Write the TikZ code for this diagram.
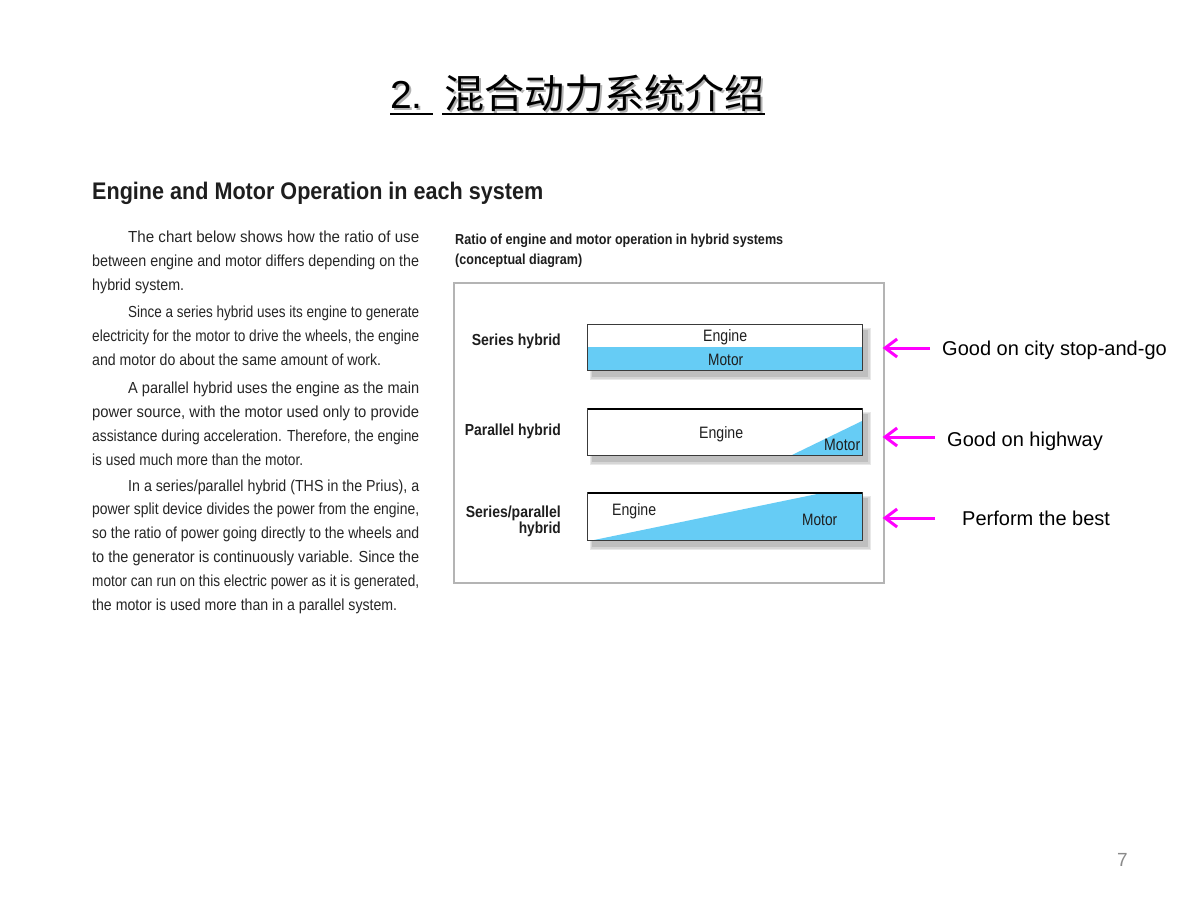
\documentclass[tikz,border=0pt]{standalone}
\usepackage{fontspec}
\usepackage{graphicx}
\usetikzlibrary{arrows.meta}
\setmainfont{Liberation Sans}
\newfontfamily\narrow[FakeStretch=0.78]{Liberation Sans}
\newfontfamily\cjk{Noto Sans CJK SC}
\definecolor{bodytxt}{HTML}{262626}
\definecolor{headtxt}{HTML}{1E1E1E}
\definecolor{barblue}{RGB}{102,204,245}
\definecolor{framegray}{HTML}{B4B4B4}
\definecolor{barline}{HTML}{3A3A3A}
\definecolor{mag}{HTML}{FF00FF}
\definecolor{pagegray}{HTML}{8A8A8A}
% fitted line: width, size, font switches, text
\newcommand{\fitln}[4]{\resizebox{#1pt}{\height}{#3\fontsize{#2}{#2}\selectfont #4}}
% soft drop shadow behind a named bar node
\newcommand{\barshadow}[1]{%
  \fill[gray!18] ([shift={(2,3)}]#1.north west) rectangle ([shift={(9,10)}]#1.south east);
  \fill[gray!32] ([shift={(3,4)}]#1.north west) rectangle ([shift={(8,9)}]#1.south east);
  \fill[gray!50] ([shift={(4,5)}]#1.north west) rectangle ([shift={(6,7)}]#1.south east);}
\tikzset{
  txt/.style={inner sep=0pt, anchor=base west, text=bodytxt},
  txtr/.style={inner sep=0pt, anchor=base east, text=headtxt},
  bartxt/.style={inner sep=0pt, anchor=base west, text=headtxt},
  barbox/.style={draw=none, inner sep=0pt, minimum width=274pt},
  barborder/.style={draw=barline, line width=1pt},
  magarrow/.style={draw=mag, line width=3pt, -{Straight Barb[length=12pt,width=18pt]}},
  rlabel/.style={inner sep=0pt, anchor=base west, text=black, font=\fontsize{20}{20}\selectfont},
}
\begin{document}
\begin{tikzpicture}[x=1pt,y=-1pt]
\useasboundingbox (0,0) rectangle (1200,900);
\fill[white] (0,0) rectangle (1200,900);

% ---- title ----
\node[inner sep=0pt, anchor=base west, text=gray!60] at (392,110) {\fontsize{39}{39}\selectfont 2.};
\node[inner sep=0pt, anchor=base west, text=gray!60] at (446,110) {\cjk\fontsize{40}{40}\selectfont 混合动力系统介绍};
\node[inner sep=0pt, anchor=base west] (tnum) at (390,108) {\fontsize{39}{39}\selectfont 2.};
\node[inner sep=0pt, anchor=base west] (tcjk) at (444,108) {\cjk\fontsize{40}{40}\selectfont 混合动力系统介绍};
\draw[line width=1.6pt] (390,114) -- (433,114);
\draw[line width=1.6pt] (442,114) -- (765,114);

% ---- heading ----
\node[inner sep=0pt, anchor=base west, text=headtxt] (head) at (92,199)
  {\fitln{451}{24}{\narrow\bfseries}{Engine and Motor Operation in each system}};

% ---- body text ----
\node[txt] (l1) at (128,242) {\fitln{291}{16}{\narrow}{The chart below shows how the ratio of use}};
\node[txt] (l2) at (92,266) {\fitln{327}{16}{\narrow}{between engine and motor differs depending on the}};
\node[txt] (l3) at (92,290) {\fitln{92}{16}{\narrow}{hybrid system.}};
\node[txt] (l4) at (128,317) {\fitln{291}{16}{\narrow}{Since a series hybrid uses its engine to generate}};
\node[txt] (l5) at (92,341) {\fitln{327}{16}{\narrow}{electricity for the motor to drive the wheels, the engine}};
\node[txt] (l6) at (92,365) {\fitln{289}{16}{\narrow}{and motor do about the same amount of work.}};
\node[txt] (l7) at (128,393) {\fitln{291}{16}{\narrow}{A parallel hybrid uses the engine as the main}};
\node[txt] (l8) at (92,417) {\fitln{327}{16}{\narrow}{power source, with the motor used only to provide}};
\node[txt] (l9) at (92,441) {\fitln{327}{16}{\narrow}{assistance during acceleration. Therefore, the engine}};
\node[txt] (l10) at (92,465) {\fitln{211}{16}{\narrow}{is used much more than the motor.}};
\node[txt] (l11) at (128,491) {\fitln{291}{16}{\narrow}{In a series/parallel hybrid (THS in the Prius), a}};
\node[txt] (l12) at (92,514) {\fitln{327}{16}{\narrow}{power split device divides the power from the engine,}};
\node[txt] (l13) at (92,538) {\fitln{327}{16}{\narrow}{so the ratio of power going directly to the wheels and}};
\node[txt] (l14) at (92,562) {\fitln{327}{16}{\narrow}{to the generator is continuously variable. Since the}};
\node[txt] (l15) at (92,586) {\fitln{327}{16}{\narrow}{motor can run on this electric power as it is generated,}};
\node[txt] (l16) at (92,610) {\fitln{305}{16}{\narrow}{the motor is used more than in a parallel system.}};

% ---- chart caption ----
\node[inner sep=0pt, anchor=base west, text=headtxt] (cap1) at (455,244)
  {\fitln{328}{14.5}{\narrow\bfseries}{Ratio of engine and motor operation in hybrid systems}};
\node[inner sep=0pt, anchor=base west, text=headtxt] (cap2) at (455,264)
  {\fitln{127}{14.5}{\narrow\bfseries}{(conceptual diagram)}};

% ---- chart frame ----
\node[draw=framegray, line width=1.2pt, fill=white, inner sep=0pt,
      minimum width=430pt, minimum height=300pt] (frame) at (669,433) {};

% ---- series hybrid bar ----
\node[barbox, minimum height=45pt] (sbar) at (725,347.5) {};
\barshadow{sbar}
\fill[white] (sbar.south west) rectangle (sbar.north east);
\fill[barblue] (588,347) rectangle (862,370);
\draw[barborder] (sbar.south west) rectangle (sbar.north east);
\node[bartxt] (se) at (703,341) {\fitln{44}{16.5}{\narrow}{Engine}};
\node[bartxt] (sm) at (708,365) {\fitln{35}{16.5}{\narrow}{Motor}};
\node[txtr] (slab) at (561,345) {\fitln{89}{16}{\narrow\bfseries}{Series hybrid}};

% ---- parallel hybrid bar ----
\node[barbox, minimum height=46pt] (pbar) at (725,432) {};
\barshadow{pbar}
\fill[white] (pbar.south west) rectangle (pbar.north east);
\fill[barblue] (792,455) -- (862,455) -- (862,421) -- cycle;
\draw[barborder] (pbar.south west) rectangle (pbar.north east);
\draw[draw=black, line width=1.8pt] (pbar.north west) -- (pbar.north east);
\node[bartxt] (pe) at (699,438) {\fitln{44}{16.5}{\narrow}{Engine}};
\node[bartxt] (pm) at (824,450) {\fitln{36}{16.5}{\narrow}{Motor}};
\node[txtr] (plab) at (561,435) {\fitln{96}{16}{\narrow\bfseries}{Parallel hybrid}};

% ---- series/parallel hybrid bar ----
\node[barbox, minimum height=47pt] (spbar) at (725,516.5) {};
\barshadow{spbar}
\fill[white] (spbar.south west) rectangle (spbar.north east);
\fill[barblue] (594,540) -- (822,493) -- (862,493) -- (862,540) -- cycle;
\draw[barborder] (spbar.south west) rectangle (spbar.north east);
\draw[draw=black, line width=1.6pt] (spbar.north west) -- (spbar.north east);
\node[bartxt] (spe) at (612,515) {\fitln{44}{16.5}{\narrow}{Engine}};
\node[bartxt] (spm) at (802,525) {\fitln{35}{16.5}{\narrow}{Motor}};
\node[txtr] (splab1) at (561,517) {\fitln{95}{16}{\narrow\bfseries}{Series/parallel}};
\node[txtr] (splab2) at (561,533) {\fitln{42}{16}{\narrow\bfseries}{hybrid}};

% ---- right side annotations ----
\node[rlabel] (r1) at (942,355) {Good on city stop-and-go};
\node[rlabel] (r2) at (947,446) {Good on highway};
\node[rlabel] (r3) at (962,525) {Perform the best};
\coordinate (t1) at (930,348);
\coordinate (t2) at (935,437);
\coordinate (t3) at (935,518);
\draw[magarrow] (t1) -- ([xshift=-2pt]t1 -| frame.east);
\draw[magarrow] (t2) -- ([xshift=-2pt]t2 -| frame.east);
\draw[magarrow] (t3) -- ([xshift=-2pt]t3 -| frame.east);

% ---- page number ----
\node[inner sep=0pt, anchor=base west, text=pagegray] (pg) at (1117,866) {\fontsize{19}{19}\selectfont 7};
\end{tikzpicture}
\end{document}
